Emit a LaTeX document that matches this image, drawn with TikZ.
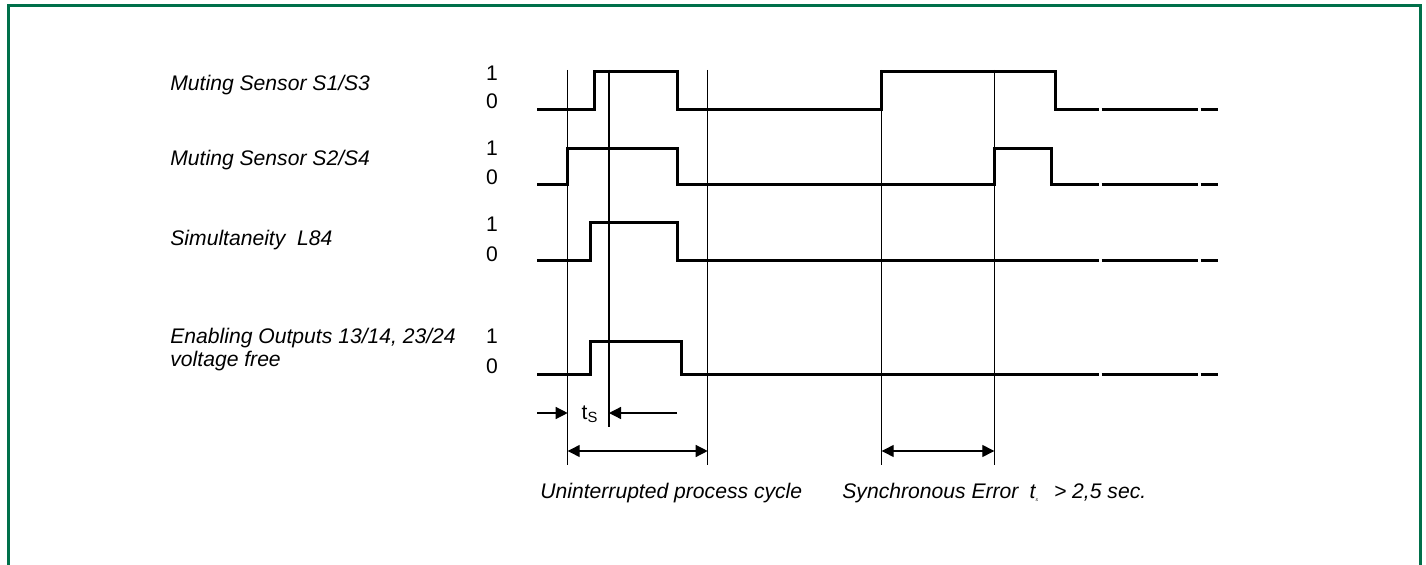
\documentclass[tikz,border=0pt]{standalone}
\usepackage{fontspec}
\setmainfont{Liberation Sans}
\usetikzlibrary{arrows.meta,positioning}
\definecolor{framegreen}{RGB}{0,112,74}

\begin{document}
\begin{tikzpicture}[x=0.5bp,y=-0.5bp,>={Triangle[length=6bp,width=6bp]},
  font=\fontsize{10.6}{12.7}\selectfont,
  sig/.style={line width=1.5bp,line join=miter},
  tick/.style={line width=0.65bp},
  lbl/.style={anchor=base west,inner sep=0pt,font=\fontsize{10.6}{11.5}\selectfont\itshape,align=left},
  lvl/.style={anchor=base,inner sep=0pt}]
  \useasboundingbox (0,0) rectangle (1426,565);
  \draw[framegreen,line width=1.5bp] (8.3,565) -- (8.3,6) -- (1420.7,6) -- (1420.7,565);

  % signal names
  \node[lbl] (s13) at (170,91) {Muting Sensor S1/S3};
  \node[lbl] (s24) at (170,166) {Muting Sensor S2/S4};
  \node[lbl] (l84) at (170,246) {Simultaneity\ \ L84};
  \node[lbl] (outs) at (170,366) {Enabling Outputs 13/14, 23/24\\voltage free};

  % levels
  \foreach \r/\yh/\yl in {1/81/109,2/156/185,3/232/262,4/343/373} {
    \node[lvl] (hi\r) at (492,\yh) {1};
    \node[lvl] (lo\r) at (492,\yl) {0};
  }

  % waveforms
  \draw[sig] (537,110) -| (594,72) -| (677,110) -| (881.7,72) -| (1055,110) -- (1099,110);
  \draw[sig] (537,185) -| (567.7,149) -| (677,185) -| (994.3,149) -| (1051.7,185) -- (1099,185);
  \draw[sig] (537,261) -| (590.7,223) -| (677,261) -- (1099,261);
  \draw[sig] (537,374) -| (590.7,341) -| (681,374) -- (1099,374);
  \foreach \y in {110,185,261,374}
    \draw[sig] (1101.5,\y) -- (1198,\y) (1200.5,\y) -- (1218,\y);

  % time marks
  \foreach \n/\x/\yb in {1/567.7/465,2/609/427,3/707.7/465,4/881.7/465,5/994.3/465} {
    \coordinate (t\n) at (\x,70);
    \coordinate (b\n) at (\x,\yb);
    \draw[tick] (t\n) -- (b\n);
  }

  % dimensions
  \coordinate (tsL) at (537,413);
  \coordinate (tsR) at (677,413);
  \coordinate (dim) at (0,451);
  \draw[tick,->] (tsL) -- (b1 |- tsL);
  \draw[tick,->] (tsR) -- (b2 |- tsR);
  \node (ts) at (590,414) {t\textsubscript{S}};
  \draw[tick,<->] (b1 |- dim) -- (b3 |- dim);
  \draw[tick,<->] (b4 |- dim) -- (b5 |- dim);

  \node[lbl] (cycle) at (540,498) {Uninterrupted process cycle};
  \node[lbl] (syncerr) at (842,498) {Synchronous Error\hspace{5.6bp}t\textsubscript{\fontsize{2.5}{3}\selectfont s}\hspace{7.5bp}> 2,5 sec.};
\end{tikzpicture}
\end{document}
